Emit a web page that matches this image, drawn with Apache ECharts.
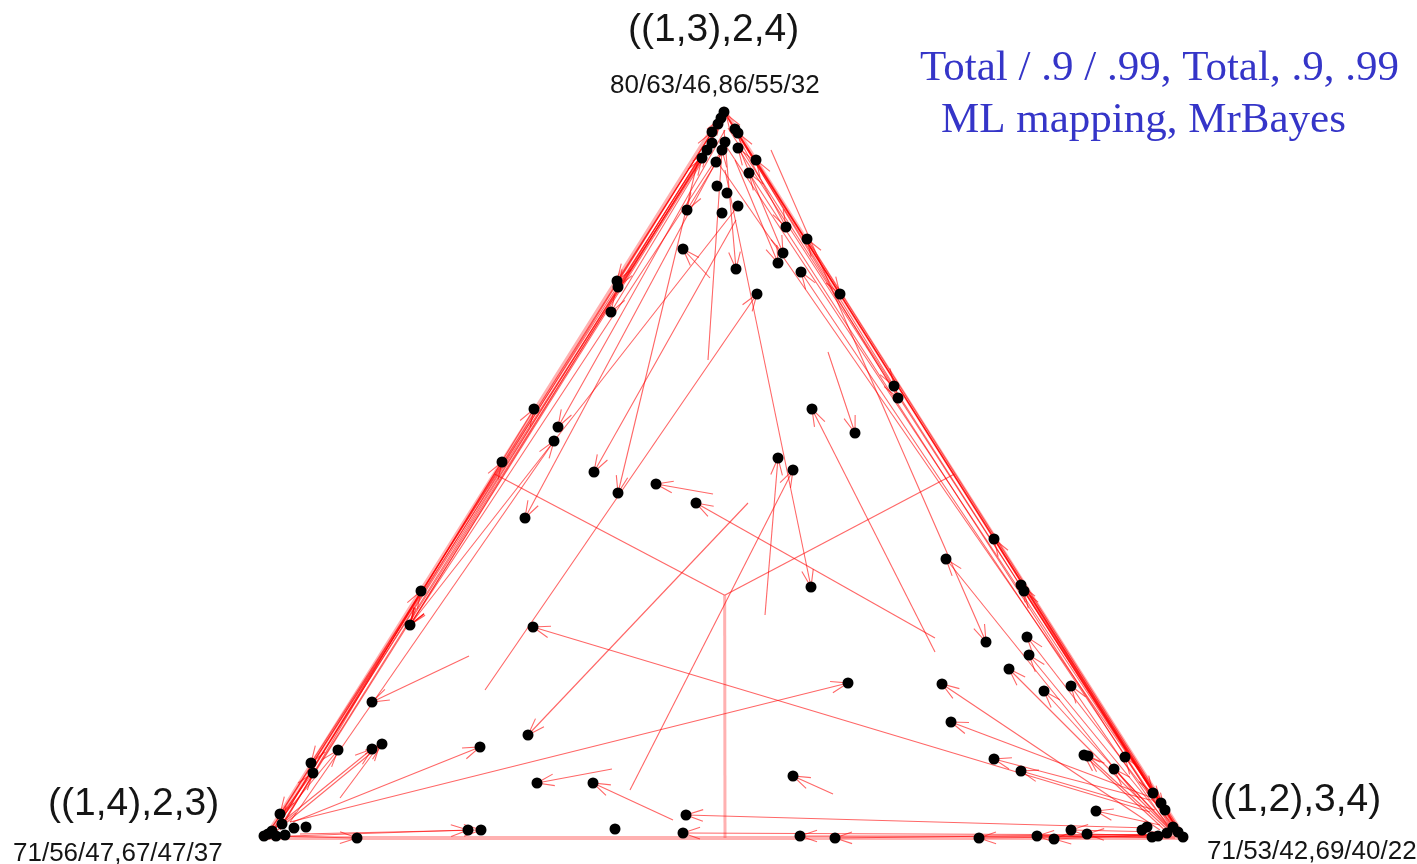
<!DOCTYPE html>
<html>
<head>
<meta charset="utf-8">
<title>ML mapping, MrBayes</title>
<script src="https://cdn.jsdelivr.net/npm/echarts@6/dist/echarts.min.js"></script>
<style>
  html, body { margin: 0; padding: 0; background: #fff; }
  #chart { width: 1417px; height: 864px; }
</style>
</head>
<body>
<div id="chart"></div>
<script>
// triangle corners, in picture units (x right, y down)
const corners = [[724, 110], [265, 838], [1185, 838]]

// black dots (end points of the mappings)
const dots = [
  [724, 112], [721, 118], [718, 124], [712, 132], [738, 133], [735, 129], [712, 143], [725, 142],
  [722, 150], [707, 150], [702, 158], [738, 148], [756, 160], [749, 173], [716, 162], [717, 186],
  [727, 193], [738, 206], [687, 210], [722, 213], [786, 227], [807, 239], [683, 249], [783, 253],
  [778, 263], [801, 272], [736, 269], [757, 294], [840, 294], [617, 281], [618, 287], [611, 312],
  [894, 386], [898, 398],
  [534, 409], [558, 427], [554, 441], [502, 462], [525, 518], [594, 472], [618, 493], [656, 484],
  [696, 503], [778, 458], [793, 470], [812, 409], [855, 433], [811, 587], [421, 591], [410, 625],
  [533, 627], [372, 702],
  [994, 539], [946, 559], [1021, 585], [1024, 591], [986, 642], [1027, 637], [1029, 655], [1009, 669],
  [1044, 691], [1071, 686], [942, 684], [951, 722], [994, 759], [1021, 771], [1084, 755], [1088, 756],
  [1114, 769], [1125, 757], [1096, 811], [1153, 793], [1161, 803], [1165, 810], [1147, 827], [1152, 837],
  [1167, 833], [1183, 837], [1173, 827], [1178, 832], [1142, 830], [1158, 836],
  [848, 683], [793, 776], [800, 836], [835, 838], [979, 838], [1037, 836], [1054, 839], [1071, 830],
  [1087, 834], [686, 815], [683, 833], [615, 829], [537, 783], [593, 783], [528, 735], [480, 747],
  [468, 830], [481, 830], [357, 838],
  [338, 750], [372, 749], [382, 744], [311, 763], [313, 773], [280, 814], [282, 824], [294, 828],
  [306, 827], [268, 834], [272, 831], [276, 836], [264, 836], [285, 835]
]

// arrows: from (x1, y1) to (x2, y2), head at the second point
const arrows = [
  // along the left side
  [272, 832, 707, 150], [275, 830, 712, 132], [280, 828, 702, 158], [268, 834, 721, 118],
  [720, 120, 617, 281], [718, 128, 618, 287], [712, 145, 611, 312], [278, 826, 534, 409],
  [725, 130, 558, 427], [290, 822, 554, 441], [276, 828, 502, 462], [716, 162, 525, 518],
  [280, 830, 421, 591], [712, 140, 410, 625], [705, 155, 410, 625], [722, 150, 410, 625],
  [738, 206, 410, 625], [469, 656, 372, 702], [718, 130, 311, 763], [268, 832, 313, 773],
  [720, 125, 282, 824], [712, 143, 280, 814],
  // bottom left
  [270, 832, 338, 750], [272, 830, 372, 749], [275, 832, 382, 744], [340, 798, 380, 744],
  [293, 822, 480, 747], [748, 503, 528, 735], [612, 769, 537, 783], [673, 820, 593, 783],
  [1150, 828, 686, 815], [1155, 835, 683, 833], [270, 836, 357, 838], [290, 836, 468, 830],
  [300, 834, 481, 830], [290, 822, 848, 683], [1150, 812, 533, 627], [485, 690, 757, 294],
  // middle
  [713, 494, 656, 484], [935, 638, 696, 503], [765, 615, 778, 458], [630, 790, 793, 470],
  [725, 170, 811, 587], [698, 160, 618, 493], [736, 220, 594, 472], [935, 652, 812, 409],
  [828, 352, 855, 433], [708, 360, 722, 150], [710, 278, 683, 249], [730, 140, 687, 210],
  [724, 130, 736, 269], [833, 794, 793, 776],
  // along the right side
  [728, 118, 786, 227], [1180, 830, 807, 239], [740, 150, 783, 253], [735, 160, 778, 263],
  [1175, 830, 801, 272], [724, 112, 840, 294], [732, 125, 894, 386], [738, 134, 898, 398],
  [1180, 834, 994, 539], [1140, 800, 946, 559], [1182, 836, 1021, 585], [1180, 834, 1024, 591],
  [771, 150, 986, 642], [1178, 832, 1027, 637], [1176, 834, 1029, 655], [1170, 830, 1009, 669],
  [1175, 835, 1044, 691], [1172, 832, 1071, 686], [1160, 830, 942, 684], [1150, 797, 951, 722],
  [1150, 800, 994, 759], [1155, 810, 1021, 771], [1170, 835, 1084, 755], [1168, 830, 1088, 756],
  [1175, 833, 1114, 769], [1178, 836, 1125, 757], [1160, 825, 1096, 811], [728, 128, 1153, 793],
  [716, 160, 1161, 803], [722, 140, 1165, 810], [1180, 832, 738, 133], [1178, 830, 738, 148],
  [1175, 828, 756, 160], [1170, 826, 749, 173], [1182, 836, 726, 114],
  // bottom right
  [1175, 836, 800, 836], [1175, 834, 835, 838], [1170, 836, 979, 838], [1175, 838, 1037, 836],
  [1170, 834, 1054, 839], [1160, 832, 1071, 830], [1165, 836, 1087, 834]
]

const cornerNames = ['((1,3),2,4)', '((1,4),2,3)', '((1,2),3,4)']
const cornerScores = ['80/63/46,86/55/32', '71/56/47,67/47/37', '71/53/42,69/40/22']
const legendLines = ['Total / .9 / .99, Total, .9, .99', 'ML mapping, MrBayes']

const chart = echarts.init(document.getElementById('chart'))

// centre of the triangle and middle of each side
const centre = [
  (corners[0][0] + corners[1][0] + corners[2][0]) / 3,
  (corners[0][1] + corners[1][1] + corners[2][1]) / 3
]
const mid = (p, q) => [(p[0] + q[0]) / 2, (p[1] + q[1]) / 2]

const labelFont = 'Liberation Sans, Arial, sans-serif'
const serifFont = 'Liberation Serif, Times New Roman, serif'
const titles = [
  { text: cornerNames[0], left: 623, top: 6, textStyle: { fontSize: 39, fontFamily: labelFont } },
  { text: cornerScores[0], left: 605, top: 68, textStyle: { fontSize: 26, fontFamily: labelFont } },
  { text: cornerNames[1], left: 43, top: 780, textStyle: { fontSize: 39, fontFamily: labelFont } },
  { text: cornerScores[1], left: 8, top: 836, textStyle: { fontSize: 26, fontFamily: labelFont } },
  { text: cornerNames[2], left: 1205, top: 776, textStyle: { fontSize: 39, fontFamily: labelFont } },
  { text: cornerScores[2], left: 1202, top: 834, textStyle: { fontSize: 26, fontFamily: labelFont } },
  { text: legendLines[0], left: 915, top: 42, textStyle: { fontSize: 43, fontFamily: serifFont, color: '#3535c8' } },
  { text: legendLines[1], left: 936, top: 94, textStyle: { fontSize: 43, fontFamily: serifFont, color: '#3535c8' } }
].map(t => {
  t.textStyle.fontWeight = 'normal'
  if (!t.textStyle.color) t.textStyle.color = '#151515'
  return t
})

chart.setOption({
  animation: false,
  backgroundColor: '#fff',
  title: titles,
  grid: { left: 0, right: 0, top: 0, bottom: 0 },
  xAxis: { type: 'value', min: 0, max: 1417, show: false },
  yAxis: { type: 'value', min: 0, max: 864, inverse: true, show: false },
  series: [
    {
      // outline of the triangle
      type: 'lines',
      coordinateSystem: 'cartesian2d',
      polyline: true,
      silent: true,
      z: 1,
      lineStyle: { color: 'rgba(255, 60, 60, 0.4)', width: 4, opacity: 1 },
      data: [{ coords: [corners[1], corners[2], corners[0], corners[1]] }]
    },
    {
      // lines from the centre to the middle of the sides
      type: 'lines',
      coordinateSystem: 'cartesian2d',
      silent: true,
      z: 1,
      lineStyle: { color: 'rgba(255, 40, 40, 0.7)', width: 1.2, opacity: 1 },
      data: [
        { coords: [centre, mid(corners[0], corners[1])] },
        { coords: [centre, mid(corners[0], corners[2])] },
        { coords: [centre, mid(corners[1], corners[2])], lineStyle: { color: 'rgba(255, 60, 60, 0.4)', width: 3 } }
      ]
    },
    {
      type: 'custom',
      coordinateSystem: 'cartesian2d',
      silent: true,
      z: 2,
      data: arrows,
      renderItem(params, api) {
        const a = api.coord([api.value(0), api.value(1)])
        const b = api.coord([api.value(2), api.value(3)])
        const ang = Math.atan2(b[1] - a[1], b[0] - a[0])
        const len = 18
        const spread = 0.33
        const h1 = [b[0] - len * Math.cos(ang - spread), b[1] - len * Math.sin(ang - spread)]
        const h2 = [b[0] - len * Math.cos(ang + spread), b[1] - len * Math.sin(ang + spread)]
        const style = { stroke: 'rgba(255, 0, 0, 0.6)', lineWidth: 1.1, fill: null }
        return {
          type: 'group',
          children: [
            { type: 'line', shape: { x1: a[0], y1: a[1], x2: b[0], y2: b[1] }, style: style },
            { type: 'polyline', shape: { points: [h1, b, h2] }, style: style }
          ]
        }
      }
    },
    {
      type: 'scatter',
      silent: true,
      z: 3,
      symbolSize: 11,
      itemStyle: { color: '#000', opacity: 1 },
      data: dots
    }
  ]
})
</script>
</body>
</html>
